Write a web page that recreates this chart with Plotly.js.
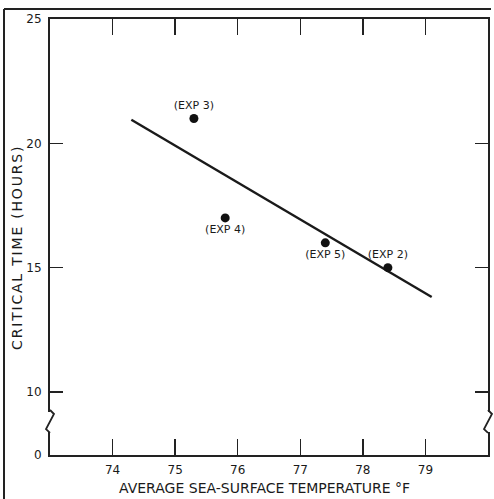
<!DOCTYPE html>
<html>
<head>
<meta charset="utf-8">
<script src="https://cdn.plot.ly/plotly-3.0.1.min.js"></script>
<style>
html,body{margin:0;padding:0;background:#fff;}
#chart{width:494px;height:499px;}
g.annotation[data-index="1"] text{letter-spacing:1.8px;}
</style>
</head>
<body>
<div id="chart"></div>
<script>
// Data
const expLabels = ["(EXP 3)", "(EXP 4)", "(EXP 5)", "(EXP 2)"];
const seaTemp = [75.3, 75.8, 77.4, 78.4];
const criticalTime = [21.0, 17.0, 16.0, 15.0];
const labelPos = ["top center", "bottom center", "bottom center", "top center"];
const fitX = [74.3, 79.1];
const fitY = [20.95, 13.82];
const xTicks = [74, 75, 76, 77, 78, 79];
const yTickVals = [7.467, 10, 15, 20, 25];   // 7.467 sits at the broken-axis origin
const yTickText = ["0", "10", "15", "20", "25"];
const xTitle = "AVERAGE SEA-SURFACE TEMPERATURE °F";
const yTitle = "CRITICAL TIME (HOURS)";

const W = 494, H = 499;
const M = {l: 50, r: 6, t: 19, b: 44};
const PW = W - M.l - M.r, PH = H - M.t - M.b;
const px = x => (x - M.l) / PW;
const py = y => (H - M.b - y) / PH;
function pathPx(pts){
  return pts.map((p,i)=> (i?'L':'M') + px(p[0]).toFixed(4) + ',' + py(p[1]).toFixed(4)).join(' ');
}

const font = "DejaVu Sans, Liberation Sans, sans-serif";
const ink = "#1a1a1a";

const traces = [
  {
    x: fitX, y: fitY, mode: "lines", type: "scatter",
    line: {color: ink, width: 2.4}, hoverinfo: "skip", showlegend: false
  },
  {
    x: seaTemp, y: criticalTime, mode: "markers+text", type: "scatter",
    text: expLabels, textposition: labelPos,
    textfont: {family: font, size: 11, color: ink},
    marker: {color: "#111", size: 9}, showlegend: false
  }
];

const shapes = [
  {type: "line", xref: "paper", yref: "paper", x0: px(4), x1: px(4), y0: py(9), y1: py(502), line: {color: "#222", width: 2}},
  {type: "line", xref: "paper", yref: "paper", x0: px(4), x1: px(491), y0: py(9), y1: py(9), line: {color: "#222", width: 2}},
  {type: "rect", xref: "paper", yref: "paper", x0: px(47), x1: px(53), y0: py(432), y1: py(412), line: {width: 0}, fillcolor: "#fff", layer: "above"},
  {type: "rect", xref: "paper", yref: "paper", x0: px(485), x1: px(491), y0: py(432), y1: py(412), line: {width: 0}, fillcolor: "#fff", layer: "above"},
  {type: "path", xref: "paper", yref: "paper", path: pathPx([[50,410],[54,414],[46,429],[50,433]]), line: {color: "#222", width: 1.8}, layer: "above"},
  {type: "path", xref: "paper", yref: "paper", path: pathPx([[488,410],[492,414],[484,429],[488,433]]), line: {color: "#222", width: 1.8}, layer: "above"}
];

const annotations = [
  {text: xTitle, xref: "paper", yref: "paper", x: px(264), y: py(488), xanchor: "center", yanchor: "middle",
   showarrow: false, font: {family: font, size: 14, color: ink}},
  {text: yTitle, xref: "paper", yref: "paper", x: px(17), y: py(248), xanchor: "center", yanchor: "middle",
   textangle: -90, showarrow: false, font: {family: font, size: 14, color: ink}}
];

const layout = {
  width: W, height: H,
  margin: {l: M.l, r: M.r, t: M.t, b: M.b, pad: 0},
  paper_bgcolor: "#fff", plot_bgcolor: "#fff",
  font: {family: font, color: ink},
  showlegend: false,
  xaxis: {
    range: [73, 80], tickvals: xTicks, ticktext: xTicks.map(String),
    ticks: "inside", ticklen: 16, tickwidth: 1.5, tickcolor: "#222",
    showline: true, linecolor: "#222", linewidth: 2, mirror: "ticks",
    showgrid: false, zeroline: false, ticklabelstandoff: 3,
    tickfont: {family: font, size: 12, color: ink}
  },
  yaxis: {
    range: [7.467, 25], tickvals: yTickVals, ticktext: yTickText,
    ticks: "inside", ticklen: 13, tickwidth: 1.5, tickcolor: "#222",
    showline: true, linecolor: "#222", linewidth: 2, mirror: "ticks",
    showgrid: false, zeroline: false, ticklabelstandoff: 4,
    tickfont: {family: font, size: 12, color: ink}
  },
  annotations: annotations,
  shapes: shapes
};

Plotly.newPlot("chart", traces, layout, {staticPlot: true, displayModeBar: false});
</script>
</body>
</html>
